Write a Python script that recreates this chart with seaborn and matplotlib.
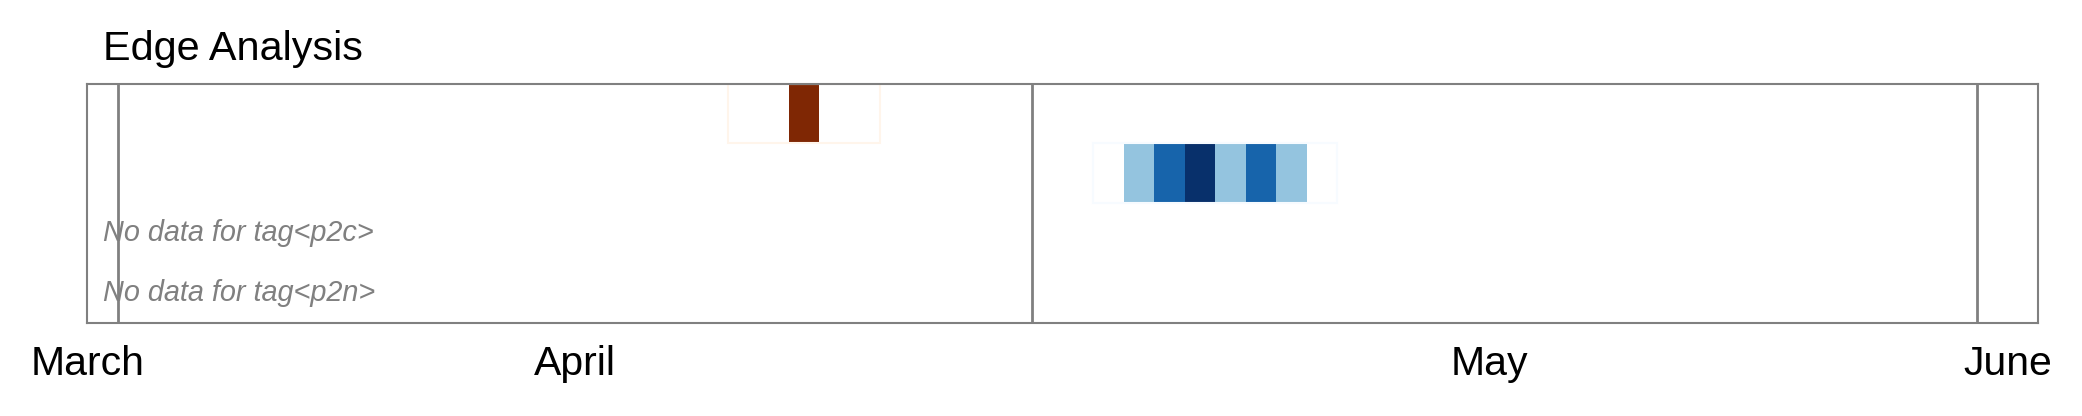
import numpy as np
import pandas as pd
import matplotlib
matplotlib.use('Agg')
import matplotlib.pyplot as plt
import matplotlib.transforms as mtransforms
from matplotlib.patches import Rectangle
import seaborn as sns

# days shown on the x axis (one heatmap column per day)
days = pd.date_range("2024-03-31", "2024-06-02", freq="D")

tags = ["p1c", "p1n", "p2c", "p2n"]
cmaps = ["Oranges", "Blues", "Greens", "Purples"]

# daily counts per tag (tags missing here have no data)
p1c_start = "2024-04-21"
p1c_counts = [0, 0, 1, 0, 0]
p1n_start = "2024-05-03"
p1n_counts = [0, 2, 4, 5, 2, 4, 2, 0]

month_label_dates = ["2024-03-31", "2024-04-16", "2024-05-16", "2024-06-02"]
month_names = ["March", "April", "May", "June"]

series = {"p1c": (p1c_start, p1c_counts), "p1n": (p1n_start, p1n_counts)}

grid = np.full((len(tags), len(days)), np.nan)
for r, tag in enumerate(tags):
    if tag in series:
        start, counts = series[tag]
        i0 = days.get_loc(pd.Timestamp(start))
        grid[r, i0:i0 + len(counts)] = counts

sns.set_style("white")
plt.rcParams['font.family'] = ['Liberation Sans', 'DejaVu Sans']
plt.rcParams['text.color'] = 'black'
plt.rcParams['xtick.color'] = 'black'

gray = "#808080"
fig = plt.figure(figsize=(20.82, 4.16), dpi=100)
ax = fig.add_axes([0.042, 0.224, 0.937, 0.575])

for r, tag in enumerate(tags):
    row = grid[r]
    if np.all(np.isnan(row)):
        ax.text(0.5, r + 0.5, f"No data for tag<{tag}>", color=gray,
                style="italic", fontsize=20.8, va="center", ha="left")
        continue
    data = np.full_like(grid, np.nan)
    data[r] = row
    mask = ~(data > 0)
    sns.heatmap(data, mask=mask, cmap=cmaps[r], vmin=0, vmax=np.nanmax(row),
                cbar=False, ax=ax)
    idx = np.where(~np.isnan(row))[0]
    ax.add_patch(Rectangle((idx[0], r), len(idx), 1, fill=False,
                           edgecolor=plt.get_cmap(cmaps[r])(0.0), lw=1.5))

# month boundaries
for i, d in enumerate(days):
    if d.day == 1:
        ax.axvline(i, color=gray, lw=2)

ax.set_xlim(0, len(days))
ax.set_ylim(len(tags), 0)
for s in ax.spines.values():
    s.set_visible(True)
    s.set_color(gray)
    s.set_linewidth(1.5)

ax.set_yticks([])
ax.set_xticks([days.get_loc(pd.Timestamp(d)) for d in month_label_dates])
ax.set_xticklabels(month_names, rotation=0, fontsize=29.5, color='black')
ax.tick_params(axis='x', length=0, pad=16)
ax.set_xlabel("")
ax.set_ylabel("")

trans = mtransforms.blended_transform_factory(ax.transData, ax.transAxes)
ax.text(0.5, 1.10, "Edge Analysis", transform=trans, fontsize=29.8,
        va="baseline", ha="left", color='black')

fig.savefig("out.png", dpi=100)
